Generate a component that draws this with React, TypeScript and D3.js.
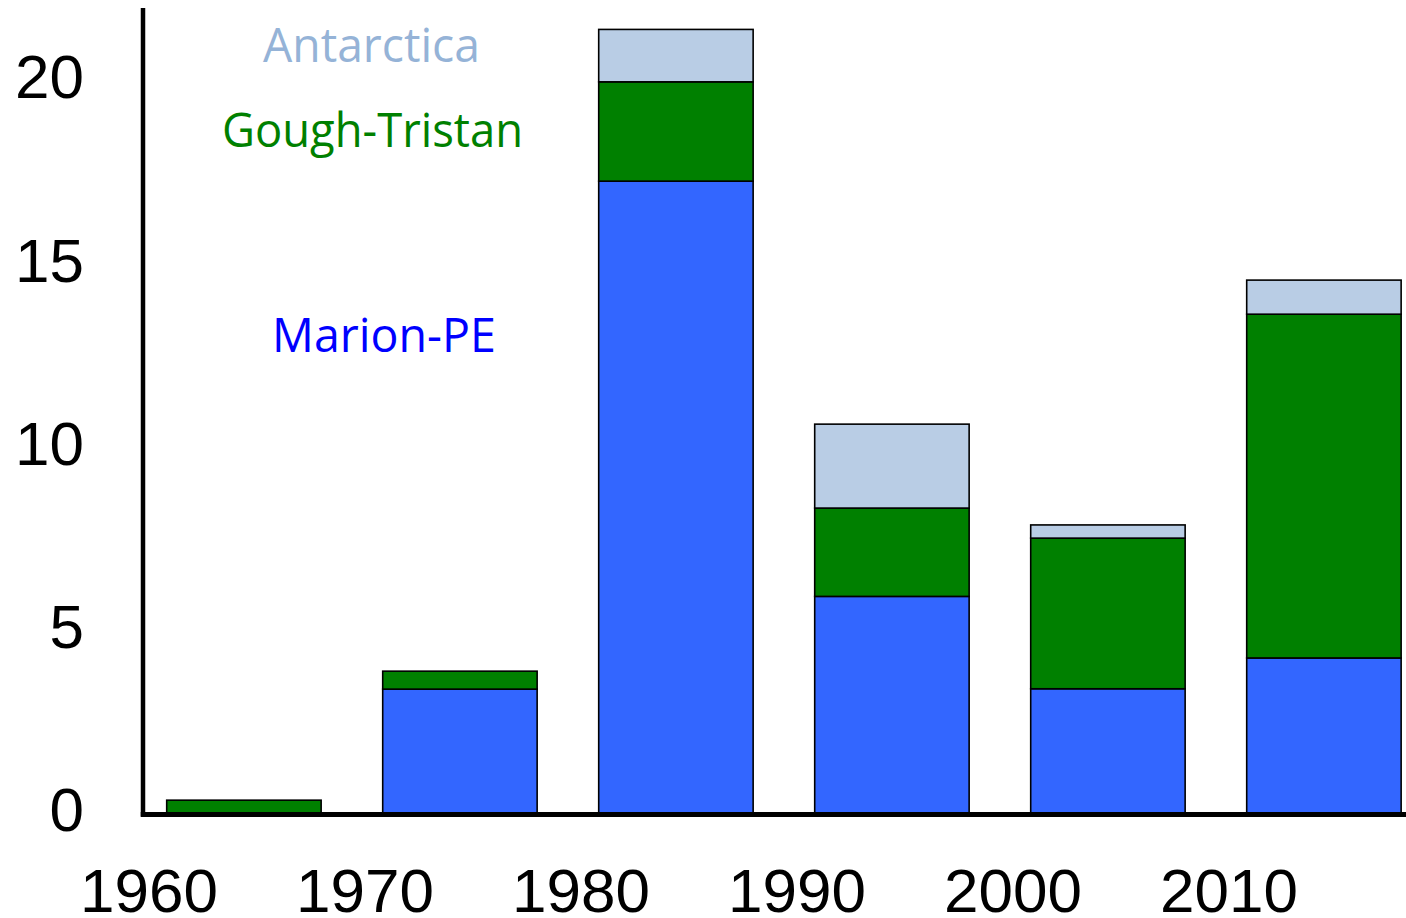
import { useEffect, useRef } from "react"
import * as d3 from "d3"

const decades = [1960, 1970, 1980, 1990, 2000, 2010]
const marionPE = [0, 3.38, 17.24, 5.91, 3.39, 4.23]
const goughTristan = [0.35, 0.49, 2.71, 2.41, 4.11, 9.38]
const antarctica = [0, 0, 1.43, 2.29, 0.36, 0.93]
const yTicks = [0, 5, 10, 15, 20]

const seriesKeys = ["marion", "gough", "antarctica"]
const colors: Record<string, string> = {
  marion: "#3366ff",
  gough: "#008000",
  antarctica: "#b9cde5",
}

export default function App() {
  const svgRef = useRef(null)

  useEffect(() => {
    document.body.style.margin = "0"
    const width = 1406
    const height = 918

    const svg = d3.select(svgRef.current).attr("width", width).attr("height", height)
    svg.selectAll("*").remove()

    const x = d3.scaleLinear().domain([1960, 2010]).range([150.5, 1230.5])
    const y = d3.scaleLinear().domain([0, 20]).range([813, 80])

    const rows = decades.map((d, i) => ({
      decade: d,
      marion: marionPE[i],
      gough: goughTristan[i],
      antarctica: antarctica[i],
    }))

    const stack = d3.stack<any>().keys(seriesKeys)(rows)

    const layers = svg
      .append("g")
      .selectAll("g")
      .data(stack)
      .enter()
      .append("g")
      .attr("fill", (d) => colors[d.key])

    layers
      .selectAll("rect")
      .data((d) => d.filter((s) => s[1] - s[0] > 0))
      .enter()
      .append("rect")
      .attr("x", (d) => x(d.data.decade + 0.75))
      .attr("width", (d) => x(d.data.decade + 7.9) - x(d.data.decade + 0.75))
      .attr("y", (d) => y(d[1]))
      .attr("height", (d) => y(d[0]) - y(d[1]))
      .attr("stroke", "#000")
      .attr("stroke-width", 1.6)

    // axes lines
    svg
      .append("line")
      .attr("x1", 143)
      .attr("x2", 143)
      .attr("y1", 8)
      .attr("y2", 816.5)
      .attr("stroke", "#000")
      .attr("stroke-width", 4.5)
    svg
      .append("line")
      .attr("x1", 140.75)
      .attr("x2", width)
      .attr("y1", y(0) + 1.5)
      .attr("y2", y(0) + 1.5)
      .attr("stroke", "#000")
      .attr("stroke-width", 5)

    // y tick labels
    svg
      .append("g")
      .selectAll("text")
      .data(yTicks)
      .enter()
      .append("text")
      .attr("x", 84)
      .attr("y", (d) => y(d) - 4)
      .attr("dy", "0.36em")
      .attr("text-anchor", "end")
      .attr("font-family", "Liberation Sans, Arial, sans-serif")
      .attr("font-size", 62)
      .attr("fill", "#000")
      .text((d) => d)

    // x tick labels
    svg
      .append("g")
      .selectAll("text")
      .data(decades)
      .enter()
      .append("text")
      .attr("x", (d) => x(d) - 1.5)
      .attr("y", 912)
      .attr("text-anchor", "middle")
      .attr("font-family", "Liberation Sans, Arial, sans-serif")
      .attr("font-size", 62)
      .attr("fill", "#000")
      .text((d) => d)

    // series labels
    const labels = [
      { text: "Antarctica", color: "#95b3d7", cx: 371.5, base: 62, len: 217 },
      { text: "Gough-Tristan", color: "#008000", cx: 372.5, base: 147, len: 301 },
      { text: "Marion-PE", color: "#0000ff", cx: 384, base: 352, len: 224 },
    ]
    svg
      .append("g")
      .selectAll("text")
      .data(labels)
      .enter()
      .append("text")
      .attr("x", (d) => d.cx - d.len / 2)
      .attr("y", (d) => d.base)
      .attr("textLength", (d) => d.len)
      .attr("lengthAdjust", "spacingAndGlyphs")
      .attr("font-family", "Open Sans, sans-serif")
      .attr("font-size", 48)
      .attr("fill", (d) => d.color)
      .text((d) => d.text)
  }, [])

  return <svg ref={svgRef}></svg>
}
